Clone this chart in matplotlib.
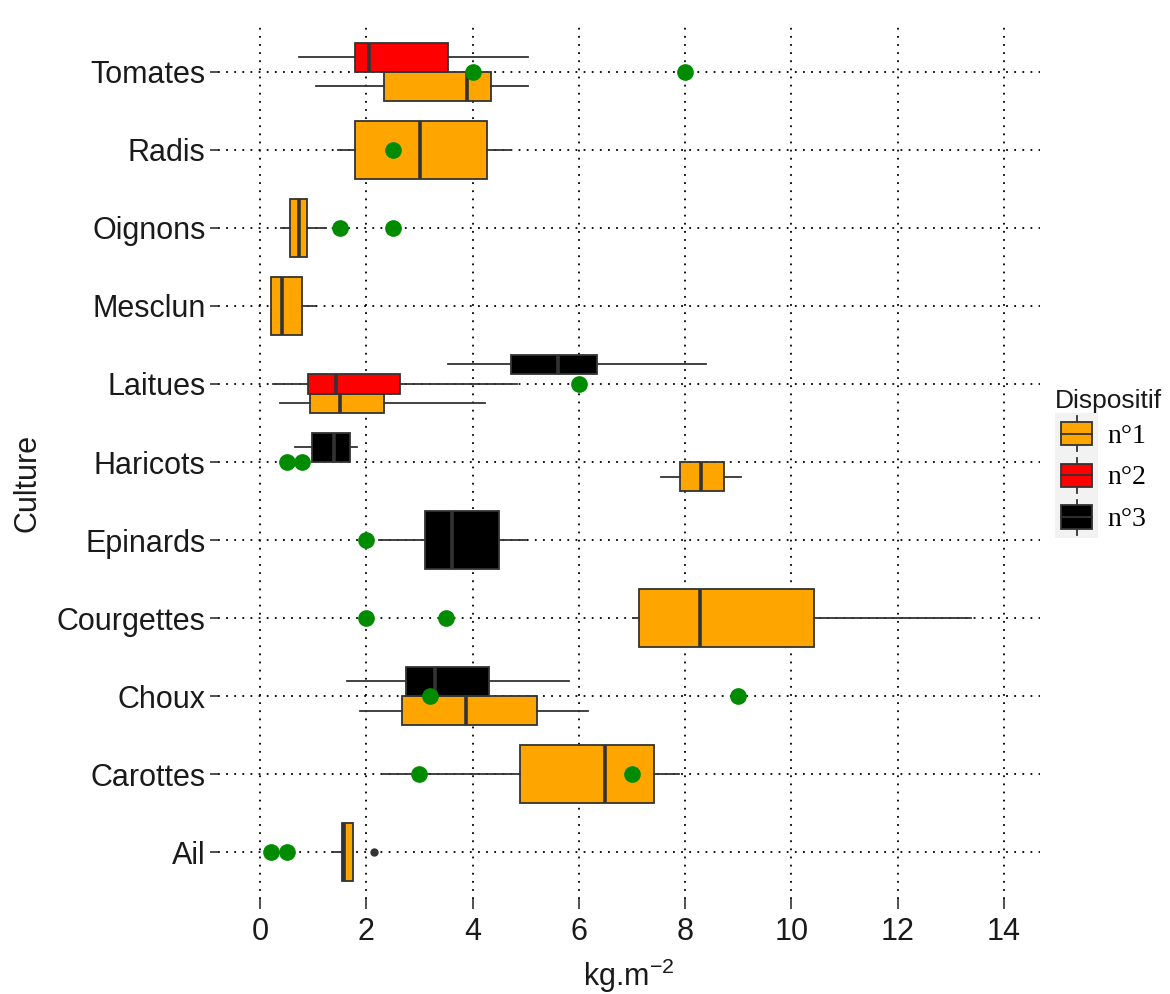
import matplotlib
matplotlib.use("Agg")
import matplotlib.pyplot as plt
from matplotlib.patches import Rectangle
from matplotlib.lines import Line2D
from matplotlib.legend_handler import HandlerBase

# Cultures (de bas en haut)
cultures = ["Ail", "Carottes", "Choux", "Courgettes", "Epinards", "Haricots",
            "Laitues", "Mesclun", "Oignons", "Radis", "Tomates"]

disp_labels = ["n°1", "n°2", "n°3"]
disp_colors = ["#FFA500", "#FF0000", "#000000"]

# Dispositif n°1
n1_culture = ["Ail", "Carottes", "Choux", "Courgettes", "Haricots", "Laitues",
              "Mesclun", "Oignons", "Radis", "Tomates"]
n1_whislo = [1.35, 2.32, 1.89, 7.02, 7.55, 0.37, 0.21, 0.40, 1.47, 1.06]
n1_q1 = [1.55, 4.89, 2.67, 7.13, 7.91, 0.94, 0.21, 0.56, 1.79, 2.33]
n1_med = [1.58, 6.49, 3.88, 8.28, 8.30, 1.50, 0.42, 0.73, 3.01, 3.89]
n1_q3 = [1.75, 7.41, 5.22, 10.43, 8.73, 2.33, 0.79, 0.89, 4.28, 4.35]
n1_whishi = [1.75, 7.88, 6.17, 13.39, 9.06, 4.24, 1.03, 1.25, 4.72, 5.04]
n1_fliers = [[2.15], [], [], [], [], [], [], [], [], []]

# Dispositif n°2
n2_culture = ["Laitues", "Tomates"]
n2_whislo = [0.24, 0.74]
n2_q1 = [0.91, 1.79]
n2_med = [1.44, 2.06]
n2_q3 = [2.64, 3.53]
n2_whishi = [4.83, 5.04]
n2_fliers = [[], []]

# Dispositif n°3
n3_culture = ["Choux", "Epinards", "Haricots", "Laitues"]
n3_whislo = [1.63, 2.24, 0.66, 3.54]
n3_q1 = [2.74, 3.11, 0.97, 4.73]
n3_med = [3.29, 3.61, 1.39, 5.61]
n3_q3 = [4.31, 4.50, 1.70, 6.34]
n3_whishi = [5.82, 5.00, 1.83, 8.39]
n3_fliers = [[], [], [], []]

# Points verts (valeurs de référence)
pt_culture = ["Tomates", "Tomates", "Radis", "Oignons", "Oignons", "Laitues",
              "Haricots", "Haricots", "Epinards", "Courgettes", "Courgettes",
              "Choux", "Choux", "Carottes", "Carottes", "Ail", "Ail"]
pt_value = [4.0, 8.0, 2.5, 1.5, 2.5, 6.0, 0.5, 0.8, 2.0, 2.0, 3.5,
            3.2, 9.0, 3.0, 7.0, 0.2, 0.5]

groups = [
    (n1_culture, n1_whislo, n1_q1, n1_med, n1_q3, n1_whishi, n1_fliers),
    (n2_culture, n2_whislo, n2_q1, n2_med, n2_q3, n2_whishi, n2_fliers),
    (n3_culture, n3_whislo, n3_q1, n3_med, n3_q3, n3_whishi, n3_fliers),
]

# Quels dispositifs par culture (pour le dodge)
present = {c: [g for g, grp in enumerate(groups) if c in grp[0]] for c in cultures}

edge = "#333333"
fig = plt.figure(figsize=(11.7, 9.94), dpi=100)
ax = fig.add_axes([218 / 1170, 1 - 899 / 994, 822 / 1170, 874 / 994])

total_w = 0.75
for g, (cult, lo, q1, med, q3, hi, fl) in enumerate(groups):
    stats, pos, wid = [], [], []
    for i, c in enumerate(cult):
        k = len(present[c])
        j = present[c].index(g)
        w = total_w / k
        pos.append(cultures.index(c) - total_w / 2 + w * (j + 0.5))
        wid.append(w)
        stats.append(dict(whislo=lo[i], q1=q1[i], med=med[i], q3=q3[i],
                          whishi=hi[i], fliers=fl[i]))
    ax.bxp(stats, positions=pos, widths=wid, orientation="horizontal",
           patch_artist=True, showcaps=False, manage_ticks=False,
           boxprops=dict(facecolor=disp_colors[g], edgecolor=edge, linewidth=1.3),
           medianprops=dict(color=edge, linewidth=2.6),
           whiskerprops=dict(color=edge, linewidth=1.3),
           flierprops=dict(marker="o", markersize=5, markerfacecolor=edge,
                           markeredgecolor=edge))

ax.plot(pt_value, [cultures.index(c) for c in pt_culture], "o", color="#008B00",
        markersize=11, zorder=5)

ax.set_xlim(-0.79, 14.68)
ax.set_ylim(-0.6, len(cultures) - 0.4)
ax.set_xticks(range(0, 15, 2))
ax.set_yticks(range(len(cultures)))
ax.set_yticklabels(cultures)
ax.set_axisbelow(True)
ax.grid(True, color="black", linestyle=(0, (1, 3.5)), linewidth=1.3)
for s in ax.spines.values():
    s.set_visible(False)

ax.tick_params(axis="both", colors=edge, width=1.2, labelcolor="#1a1a1a",
               labelsize=22)
ax.tick_params(axis="y", length=6, pad=3)
ax.tick_params(axis="x", length=7, pad=6)
for lab in ax.get_xticklabels() + ax.get_yticklabels():
    lab.set_family("Liberation Sans")

ax.set_xlabel("kg.m$^{\\mathregular{-2}}$", fontsize=22, family="Liberation Sans",
              color="#1a1a1a")
ax.xaxis.set_label_coords(0.5, -0.066)
ax.set_ylabel("Culture", fontsize=22, family="Liberation Sans", color="#1a1a1a")
ax.yaxis.set_label_coords(-0.213, 0.476)


class BoxKey(HandlerBase):
    def create_artists(self, legend, orig_handle, xdescent, ydescent, width,
                       height, fontsize, trans):
        fc = orig_handle.get_facecolor()
        x0, y0 = -xdescent, -ydescent
        cx = x0 + width / 2
        bw, bh = width * 0.72, height * 0.56
        bg = Rectangle((x0, y0), width, height, facecolor="#f2f2f2",
                       edgecolor="none", transform=trans)
        wh = Line2D([cx, cx], [y0 + height * 0.08, y0 + height * 0.92],
                    color=edge, lw=1.3, transform=trans)
        box = Rectangle((cx - bw / 2, y0 + (height - bh) / 2), bw, bh,
                        facecolor=fc, edgecolor=edge, lw=1.3, transform=trans)
        md = Line2D([cx - bw / 2, cx + bw / 2], [y0 + height / 2] * 2,
                    color=edge, lw=1.3, transform=trans)
        return [bg, wh, box, md]


handles = [Rectangle((0, 0), 1, 1, facecolor=c) for c in disp_colors]
leg = fig.legend(handles, disp_labels, loc="upper left",
                 bbox_to_anchor=(1055 / 1170, 1 - 389 / 994),
                 frameon=False, borderpad=0, borderaxespad=0,
                 handler_map={Rectangle: BoxKey()},
                 handlelength=1.55, handleheight=1.93, handletextpad=0.35,
                 labelspacing=0.0,
                 prop=dict(family="Liberation Serif", size=20),
                 title="Dispositif",
                 title_fontproperties=dict(family="Liberation Sans", size=19),
                 alignment="left")
leg.get_title().set_color("#1a1a1a")

fig.savefig("out.png", dpi=100, facecolor="white")
